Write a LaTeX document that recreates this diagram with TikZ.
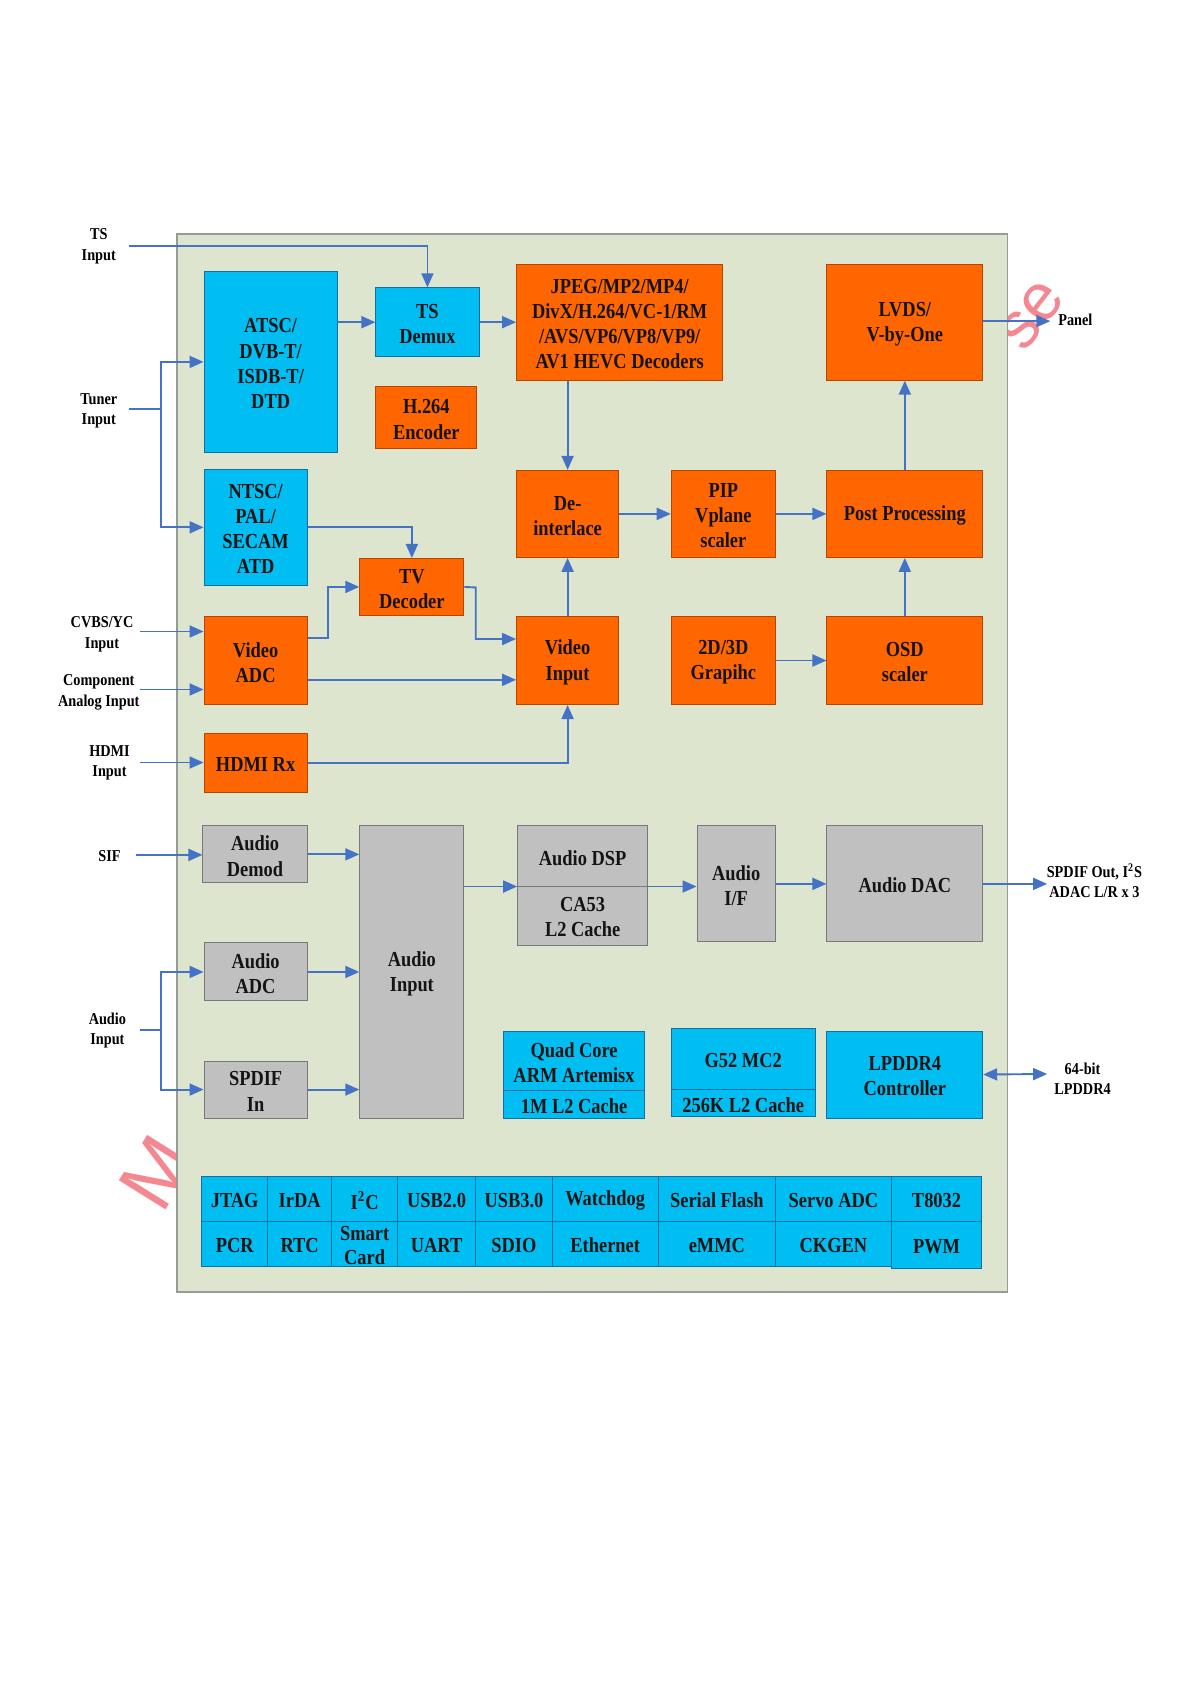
\documentclass[tikz,border=0pt]{standalone}
\usepackage{fontspec}
\setmainfont{Liberation Serif}[FakeStretch=0.86]
\newfontfamily\wmfont{Liberation Sans}
\usetikzlibrary{arrows.meta,fit,calc}
\definecolor{bgc}{RGB}{221,229,207}
\definecolor{bgb}{RGB}{150,155,150}
\definecolor{cyc}{RGB}{0,190,242}
\definecolor{cyb}{RGB}{20,110,160}
\definecolor{orc}{RGB}{255,102,0}
\definecolor{orb}{RGB}{180,70,0}
\definecolor{grc}{RGB}{192,192,192}
\definecolor{grb}{RGB}{120,120,120}
\definecolor{arrc}{RGB}{68,114,196}
\definecolor{txt}{RGB}{20,20,20}
\definecolor{wmc}{RGB}{240,70,85}
\newcommand\myboxfont{\fontsize{10.7}{12.6}\selectfont\bfseries}
\newcommand\mylabfont{\fontsize{8.3}{10.2}\selectfont\bfseries}
% box: [text options]{box style}{name}{corners}{text}
\newcommand\mkbox[5][]{%
  \node[#2, fit={#4}] (#3) {};
  \node[btxt,#1] (#3-t) at (#3.center) {#5};}
\begin{document}
\begin{tikzpicture}[x=0.537pt,y=-0.537pt,
  blk/.style={draw, line width=0.5pt, inner sep=0pt},
  orbox/.style={blk, fill=orc, draw=orb},
  cybox/.style={blk, fill=cyc, draw=cyb},
  grbox/.style={blk, fill=grc, draw=grb},
  btxt/.style={align=center, font=\myboxfont, text=txt, inner sep=0pt, yshift=-0.9pt},
  lab/.style={align=center, font=\mylabfont, text=black, inner sep=0pt, yshift=-0.8pt},
  ln/.style={draw=arrc, line width=0.95pt},
  arr/.style={ln, -{Triangle[length=7pt,width=6pt]}},
  darr/.style={ln, {Triangle[length=7pt,width=6pt]}-{Triangle[length=7pt,width=6pt]}},
  wm/.style={text=wmc, opacity=0.65, font=\wmfont\fontsize{#1}{#1}\selectfont, inner sep=0pt}
]
\useasboundingbox (0,0) rectangle (1109,1568);
% watermark fragments (behind the board)
\node[wm=40, rotate=58] (wm1) at (146,1092) {M};
\node[wm=33, rotate=52] (wm2) at (961,294) {se};
% board
\node[fill=bgc, draw=bgb, line width=0.8pt, inner sep=0pt, fit={(165,218) (938,1203)}] (bg) {};

% video blocks
\mkbox{cybox}{atsc}{(190,253) (314,421)}{ATSC/\\DVB-T/\\ISDB-T/\\DTD}
\mkbox{cybox}{tsdemux}{(350,268) (446,332)}{TS\\Demux}
\mkbox{orbox}{jpeg}{(481,246) (673,354)}{JPEG/MP2/MP4/\\DivX/H.264/VC-1/RM\\/AVS/VP6/VP8/VP9/\\AV1 HEVC Decoders}
\mkbox{orbox}{lvds}{(770,246) (915,354)}{LVDS/\\V-by-One}
\mkbox{orbox}{h264}{(350,360) (444,418)}{H.264\\Encoder}
\mkbox{cybox}{ntsc}{(190,437) (286,545)}{NTSC/\\PAL/\\SECAM\\ATD}
\mkbox{orbox}{deint}{(481,438) (576,519)}{De-\\interlace}
\mkbox{orbox}{pip}{(625,438) (722,519)}{PIP\\Vplane\\scaler}
\mkbox{orbox}{post}{(770,438) (915,519)}{Post Processing}
\mkbox{orbox}{tvdec}{(335,520) (432,573)}{TV\\Decoder}
\mkbox{orbox}{vadc}{(190,574) (286,656)}{Video\\ADC}
\mkbox{orbox}{vin}{(481,574) (576,656)}{Video\\Input}
\mkbox{orbox}{g2d}{(625,574) (722,656)}{2D/3D\\Grapihc}
\mkbox{orbox}{osd}{(770,574) (915,656)}{OSD\\scaler}
\mkbox{orbox}{hdmi}{(190,683) (286,738)}{HDMI Rx}

% audio blocks
\mkbox{grbox}{ademod}{(189,769) (286,822)}{Audio\\Demod}
\mkbox{grbox}{ain}{(335,769) (432,1041)}{Audio\\Input}
\mkbox{grbox}{dsp}{(482,769) (603,825)}{Audio DSP}
\mkbox{grbox}{ca53}{(482,825) (603,880)}{CA53\\L2 Cache}
\mkbox{grbox}{aif}{(649,769) (722,877)}{Audio\\I/F}
\mkbox{grbox}{adac}{(770,769) (915,877)}{Audio DAC}
\mkbox{grbox}{aadc}{(190,878) (286,932)}{Audio\\ADC}
\mkbox{grbox}{spdif}{(190,988) (286,1041)}{SPDIF\\In}

% cpu / gpu / memory
\mkbox{cybox}{quad}{(469,960) (600,1015)}{Quad Core\\ARM Artemisx}
\mkbox{cybox}{qcache}{(469,1015) (600,1041)}{1M L2 Cache}
\mkbox{cybox}{g52}{(625,958) (759,1014)}{G52 MC2}
\mkbox{cybox}{gcache}{(625,1014) (759,1040)}{256K L2 Cache}
\mkbox{cybox}{lpddr}{(770,960) (915,1041)}{LPDDR4\\Controller}

% peripheral table
\mkbox{cybox}{p1}{(188,1095) (249,1137)}{JTAG}
\mkbox{cybox}{p2}{(249,1095) (309,1137)}{IrDA}
\mkbox{cybox}{p3}{(309,1095) (370,1137)}{I\textsuperscript{2}C}
\mkbox{cybox}{p4}{(370,1095) (443,1137)}{USB2.0}
\mkbox{cybox}{p5}{(443,1095) (514,1137)}{USB3.0}
\mkbox{cybox}{p6}{(514,1095) (613,1137)}{Watchdog}
\mkbox{cybox}{p7}{(613,1095) (722,1137)}{Serial Flash}
\mkbox{cybox}{p8}{(722,1095) (830,1137)}{Servo ADC}
\mkbox{cybox}{p9}{(830,1095) (914,1137)}{T8032}
\mkbox{cybox}{q1}{(188,1137) (249,1179)}{PCR}
\mkbox{cybox}{q2}{(249,1137) (309,1179)}{RTC}
\mkbox[font=\fontsize{10.7}{11.8}\selectfont\bfseries]{cybox}{q3}{(309,1137) (370,1179)}{Smart\\Card}
\mkbox{cybox}{q4}{(370,1137) (443,1179)}{UART}
\mkbox{cybox}{q5}{(443,1137) (514,1179)}{SDIO}
\mkbox{cybox}{q6}{(514,1137) (613,1179)}{Ethernet}
\mkbox{cybox}{q7}{(613,1137) (722,1179)}{eMMC}
\mkbox{cybox}{q8}{(722,1137) (830,1179)}{CKGEN}
\mkbox{cybox}{q9}{(830,1137) (914,1181)}{PWM}

% outside labels
\node[lab] (tsin) at (92,228) {TS\\Input};
\node[lab] (tunin) at (92,381) {Tuner\\Input};
\node[lab] (cvbsin) at (95,589) {CVBS/YC\\Input};
\node[lab] (compin) at (92,643) {Component\\Analog Input};
\node[lab] (hdmiin) at (102,709) {HDMI\\Input};
\node[lab] (sifin) at (102,796) {SIF};
\node[lab] (audin) at (100,958) {Audio\\Input};
\node[lab, anchor=west] (panel) at (985,296) {Panel};
\node[lab] (aout) at (1019,819) {SPDIF Out, I\textsuperscript{2}S\\ADAC L/R x 3};
\node[lab] (ddrout) at (1008,1003) {64-bit\\LPDDR4};

% free ends / junctions
\coordinate (tsin-o) at (120,229);
\coordinate (tun-o) at (120,381);
\coordinate (tunj) at (150,381);
\coordinate (cvbs-o) at (130,588);
\coordinate (comp-o) at (130,642);
\coordinate (hdmi-o) at (130,710);
\coordinate (sif-o) at (127,796);
\coordinate (aud-o) at (130,959);
\coordinate (audj) at (150,959);
\coordinate (panel-i) at (978,299);
\coordinate (aout-i) at (975,823);
\coordinate (ddr-i) at (975,1000);

% connectors: video
\draw[arr] (tsin-o) -| (tsdemux.north);
\draw[ln] (tun-o) -- (tunj);
\draw[arr] (tunj) |- (atsc.west);
\draw[arr] (tunj) |- (ntsc.west);
\draw[arr] (atsc.east |- tsdemux.west) -- (tsdemux.west);
\draw[arr] (tsdemux.east) -- (jpeg.west |- tsdemux.east);
\draw[arr] (jpeg.south -| deint.north) -- (deint.north);
\draw[arr] (ntsc.east) -| (tvdec.north);
\draw[arr] (vadc.east |- 0,594) -- (305,594) |- (tvdec.west);
\draw[arr] (tvdec.east) -- (443,547) |- (vin.west |- 0,595);
\draw[arr] (vadc.east |- 0,633) -- (vin.west |- 0,633);
\draw[arr] (hdmi.east) -| (vin.south);
\draw[arr] (vin.north) -- (deint.south);
\draw[arr] (deint.east) -- (pip.west);
\draw[arr] (pip.east) -- (post.west);
\draw[arr] (post.north) -- (lvds.south);
\draw[arr] (osd.north) -- (post.south);
\draw[arr] (g2d.east) -- (osd.west);
\draw[arr] (lvds.east |- panel-i) -- (panel-i);
\draw[arr] (cvbs-o) -- (vadc.west |- cvbs-o);
\draw[arr] (comp-o) -- (vadc.west |- comp-o);
\draw[arr] (hdmi-o) -- (hdmi.west |- hdmi-o);

% connectors: audio
\draw[arr] (sif-o) -- (ademod.west |- sif-o);
\draw[arr] (ademod.east) -- (ain.west |- ademod.east);
\draw[arr] (aadc.east) -- (ain.west |- aadc.east);
\draw[arr] (spdif.east) -- (ain.west |- spdif.east);
\draw[ln] (aud-o) -- (audj);
\draw[arr] (audj) |- (aadc.west);
\draw[arr] (audj) |- (spdif.west);
\draw[arr] (ain.east |- dsp.south west) -- (dsp.south west);
\draw[arr] (dsp.south east) -- (aif.west |- dsp.south east);
\draw[arr] (aif.east) -- (adac.west);
\draw[arr] (adac.east) -- (aout-i);
\draw[darr] (lpddr.east) -- (ddr-i);
\end{tikzpicture}
\end{document}
